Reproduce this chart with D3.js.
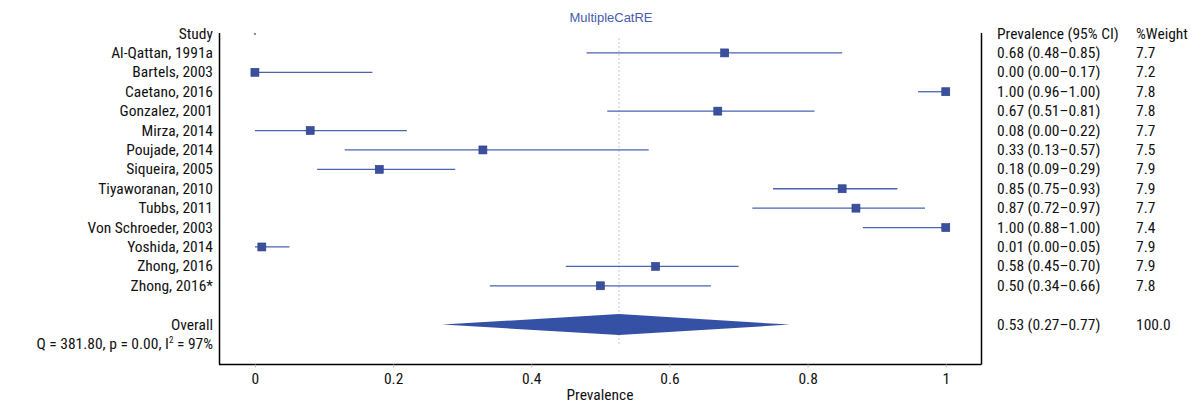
<!DOCTYPE html>
<html><head><meta charset="utf-8">
<script src="https://cdn.jsdelivr.net/npm/d3@7"></script>
<style>
body{margin:0;background:#fff;}
text{font-family:'Liberation Sans Narrow','Roboto Condensed','DejaVu Sans Condensed',sans-serif;}
</style></head><body>
<svg id="c" width="1190" height="403"></svg>
<script>
const studies = ["Al-Qattan, 1991a","Bartels, 2003","Caetano, 2016","Gonzalez, 2001","Mirza, 2014","Poujade, 2014","Siqueira, 2005","Tiyaworanan, 2010","Tubbs, 2011","Von Schroeder, 2003","Yoshida, 2014","Zhong, 2016","Zhong, 2016*"];
const estimates = [0.68,0.00,1.00,0.67,0.08,0.33,0.18,0.85,0.87,1.00,0.01,0.58,0.50];
const lower =     [0.48,0.00,0.96,0.51,0.00,0.13,0.09,0.75,0.72,0.88,0.00,0.45,0.34];
const upper =     [0.85,0.17,1.00,0.81,0.22,0.57,0.29,0.93,0.97,1.00,0.05,0.70,0.66];
const weights =   [7.7,7.2,7.8,7.8,7.7,7.5,7.9,7.9,7.7,7.4,7.9,7.9,7.8];
const overall = {est:0.527, lo:0.271, hi:0.774, weight:100.0};
const heterogeneity = {Q:381.80, p:0.00, I2:97};
const xTicks = [0,0.2,0.4,0.6,0.8,1];

const svg = d3.select("#c");
const fs = 15.5;
const x = d3.scaleLinear().domain([-0.052,1.051]).range([219,981]);
// row positions: 0 = header, 1..13 studies, 14 blank, 15 overall, 16 heterogeneity
const y = d3.scaleLinear().domain([0,16]).range([33.5,344]);
const fmt = d3.format(".2f");
const blue = "#3a509e", lineBlue = "#4a63b3";

// title
svg.append("text").attr("x",611).attr("y",22).attr("text-anchor","middle")
  .attr("font-size",13).attr("fill","#4a5cad").style("font-family","'Liberation Sans',Arial,sans-serif").text("MultipleCatRE");

// frame
svg.append("line").attr("x1",219.5).attr("x2",219.5).attr("y1",33).attr("y2",364.5).attr("stroke","#000").attr("stroke-width",1.5);
svg.append("line").attr("x1",981.5).attr("x2",981.5).attr("y1",33).attr("y2",364.5).attr("stroke","#000").attr("stroke-width",1.5);

// axis
const ax = svg.append("g").attr("transform","translate(0,364.5)")
  .call(d3.axisBottom(x).tickValues(xTicks).tickFormat(d=>d3.format("")(d)).tickSize(3).tickPadding(5));
ax.select(".domain").attr("stroke","#000").attr("stroke-width",1.5).attr("d","M219,0H981.5");
ax.selectAll(".tick line").attr("stroke","#bbb");
ax.selectAll(".tick text").attr("font-size",fs).attr("fill","#111")
  .style("font-family","'Liberation Sans Narrow','Roboto Condensed','DejaVu Sans Condensed',sans-serif");
svg.append("text").attr("x",600).attr("y",400).attr("text-anchor","middle").attr("font-size",fs).attr("fill","#111").text("Prevalence");

// reference line
svg.append("line").attr("x1",x(overall.est)).attr("x2",x(overall.est)).attr("y1",38).attr("y2",346)
  .attr("stroke","#c8c8c8").attr("stroke-width",1).attr("stroke-dasharray","2,2");

// header dot
svg.append("rect").attr("x",x(0)-1).attr("y",y(0)-0.5).attr("width",2).attr("height",2).attr("fill","#888");

// CIs and squares
studies.forEach((s,i)=>{
  const yy = y(i+1);
  svg.append("line").attr("x1",x(lower[i])).attr("x2",x(upper[i])).attr("y1",yy).attr("y2",yy)
    .attr("stroke",lineBlue).attr("stroke-width",1.3);
  svg.append("rect").attr("x",x(estimates[i])-4).attr("y",yy-4).attr("width",8).attr("height",8)
    .attr("fill",blue).attr("stroke","#2c3f86").attr("stroke-width",0.6);
});

// diamond
const yo = y(15);
svg.append("path").attr("d",`M${x(overall.lo)},${yo}L${x(overall.est)},${yo-10.5}L${x(overall.hi)},${yo}L${x(overall.est)},${yo+10.5}Z`)
  .attr("fill","#3551a6");

// left labels
const lab = svg.append("g").attr("font-size",fs).attr("fill","#111").attr("text-anchor","end");
lab.append("text").attr("x",213).attr("y",y(0)+5).text("Study");
studies.forEach((s,i)=>lab.append("text").attr("x",213).attr("y",y(i+1)+5).text(s));
lab.append("text").attr("x",213).attr("y",y(15)+5).text("Overall");
const q = lab.append("text").attr("x",213).attr("y",y(16)+5);
q.append("tspan").text(`Q = ${fmt(heterogeneity.Q)}, p = ${fmt(heterogeneity.p)}, I`);
q.append("tspan").attr("font-size",9).attr("dy",-6).text("2");
q.append("tspan").attr("dy",6).text(` = ${heterogeneity.I2}%`);

// right columns
const r = svg.append("g").attr("font-size",fs).attr("fill","#111");
r.append("text").attr("x",997).attr("y",y(0)+5).text("Prevalence (95% CI)");
r.append("text").attr("x",1136).attr("y",y(0)+5).text("%Weight");
studies.forEach((s,i)=>{
  r.append("text").attr("x",997).attr("y",y(i+1)+5).text(`${fmt(estimates[i])} (${fmt(lower[i])}–${fmt(upper[i])})`);
  r.append("text").attr("x",1136).attr("y",y(i+1)+5).text(d3.format(".1f")(weights[i]));
});
r.append("text").attr("x",997).attr("y",y(15)+5).text(`${fmt(overall.est)} (${fmt(overall.lo)}–${fmt(overall.hi)})`);
r.append("text").attr("x",1136).attr("y",y(15)+5).text(d3.format(".1f")(overall.weight));
</script></body></html>
